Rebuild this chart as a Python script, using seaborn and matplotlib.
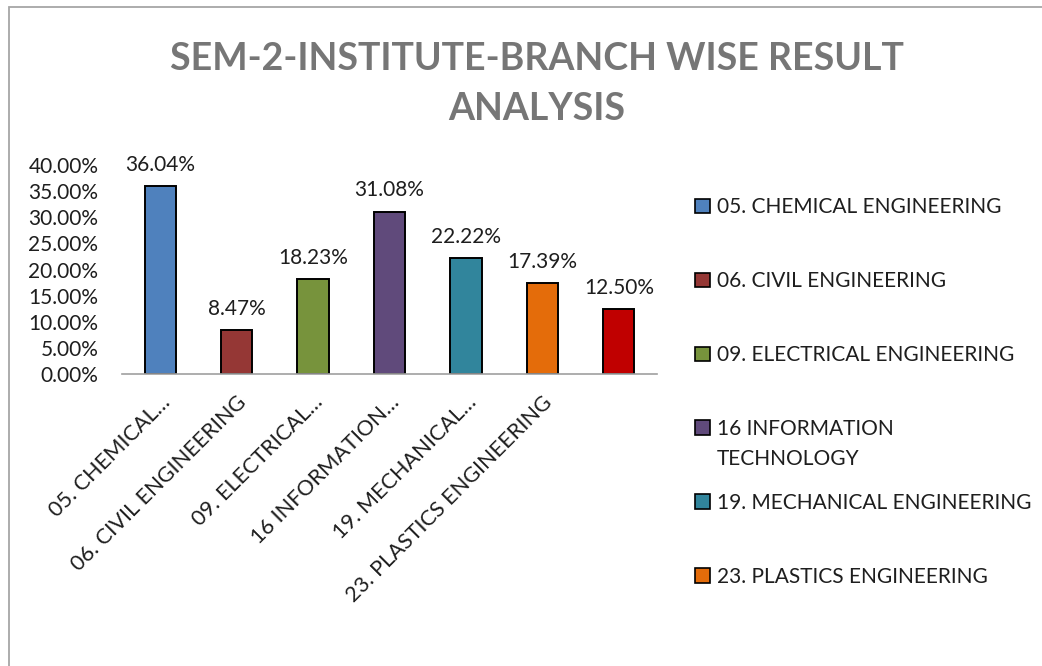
#!/usr/bin/env python3
"""Branch wise result analysis bar chart (SEM-2)."""

import matplotlib

matplotlib.use("Agg")
import matplotlib.pyplot as plt
import numpy as np
import pandas as pd
import seaborn as sns
from matplotlib.patches import Patch, Rectangle
from matplotlib.ticker import PercentFormatter
from matplotlib.transforms import ScaledTranslation

BRANCHES = [
    "05. CHEMICAL ENGINEERING",
    "06. CIVIL ENGINEERING",
    "09. ELECTRICAL ENGINEERING",
    "16 INFORMATION TECHNOLOGY",
    "19. MECHANICAL ENGINEERING",
    "23. PLASTICS ENGINEERING",
    " ",
]
TICK_LABELS = [
    "05. CHEMICAL…",
    "06. CIVIL ENGINEERING",
    "09. ELECTRICAL…",
    "16 INFORMATION…",
    "19. MECHANICAL…",
    "23. PLASTICS ENGINEERING",
    "",
]
# 4th entry wraps onto a second line in the legend
LEGEND_LABELS = [
    "05. CHEMICAL ENGINEERING",
    "06. CIVIL ENGINEERING",
    "09. ELECTRICAL ENGINEERING",
    "16 INFORMATION",
    "19. MECHANICAL ENGINEERING",
    "23. PLASTICS ENGINEERING",
]
LEGEND_WRAP = "TECHNOLOGY"
PASS_PCT = [36.04, 8.47, 18.23, 31.08, 22.22, 17.39, 12.50]
COLORS = ["#4F81BD", "#953735", "#77933C", "#604A7B", "#31859C", "#E46C0A", "#C00000"]

W, H = 1042, 666
TEXT = "#1e1e1e"
FS = 15


def main() -> None:
    sns.set_theme(style="white")
    plt.rcParams["font.family"] = ["Lato", "DejaVu Sans"]

    df = pd.DataFrame({"branch": BRANCHES, "pct": [v / 100 for v in PASS_PCT]})
    palette = dict(zip(BRANCHES, COLORS))

    fig = plt.figure(figsize=(W / 100, H / 100), dpi=100)
    fig.patch.set_facecolor("white")
    ax = fig.add_axes([122 / W, 1 - 374 / H, (657 - 122) / W, (374 - 165) / H])

    sns.barplot(
        data=df, x="branch", y="pct", hue="branch", palette=palette,
        dodge=False, width=0.41, saturation=1, edgecolor="black", linewidth=1.4,
        legend=False, ax=ax,
    )
    for cont in ax.containers:
        ax.bar_label(cont, labels=[f"{b.get_height() * 100:.2f}%" for b in cont],
                     padding=8, fontsize=FS, color=TEXT)

    ax.set_ylim(0, 0.40)
    ax.set_xlim(-0.5, len(BRANCHES) - 0.5)
    ax.set_yticks(np.arange(0, 0.401, 0.05))
    ax.yaxis.set_major_formatter(PercentFormatter(1.0, decimals=2))
    ax.tick_params(axis="y", length=0, pad=17, labelsize=FS, labelcolor=TEXT)

    ax.set_xticks(range(len(BRANCHES)))
    ax.set_xticklabels(TICK_LABELS, rotation=45, ha="right", rotation_mode="anchor",
                       fontsize=15.6, color=TEXT)
    shift = ScaledTranslation(3 / 100, 0, fig.dpi_scale_trans)
    for lab in ax.get_xticklabels():
        lab.set_transform(lab.get_transform() + shift)
    ax.set_xticks(np.arange(-0.5, len(BRANCHES), 1), minor=True)
    ax.tick_params(axis="x", which="major", length=0, pad=13)
    ax.tick_params(axis="x", which="minor", length=5, width=1, color="#a0a0a0", direction="out")
    ax.set_xlabel("")
    ax.set_ylabel("")
    for side in ("top", "right", "left"):
        ax.spines[side].set_visible(False)
    ax.spines["bottom"].set_color("#a0a0a0")
    ax.spines["bottom"].set_linewidth(1.2)

    handles = [Patch(facecolor=c, edgecolor="black", linewidth=1.2) for c in COLORS[:6]]
    leg = fig.legend(
        handles, LEGEND_LABELS, loc="upper left", bbox_to_anchor=(687 / W, 1 - 189 / H),
        borderaxespad=0, frameon=False, fontsize=FS, handlelength=0.72, handleheight=0.72,
        handletextpad=0.3, labelspacing=2.59, labelcolor=TEXT,
    )

    fig.text(537 / W, 1 - 84 / H, "SEM-2-INSTITUTE-BRANCH WISE RESULT\nANALYSIS",
             ha="center", va="center", fontsize=27, fontweight="bold",
             color="#767676", linespacing=1.6)

    fig.patches.append(Rectangle((9 / W, -0.2), 1.5, 1.2 - 7 / H,
                                 transform=fig.transFigure, fill=False,
                                 edgecolor="#a6a6a6", linewidth=1.3))

    # second line of the wrapped legend entry sits under the first one
    fig.canvas.draw()
    bb = leg.get_texts()[3].get_window_extent()
    fig.text(bb.x0 / W, (bb.y0 - 30) / H, LEGEND_WRAP, ha="left", va="bottom",
             fontsize=FS, color=TEXT)

    fig.savefig("out.png", dpi=100)
    plt.close(fig)


if __name__ == "__main__":
    main()
